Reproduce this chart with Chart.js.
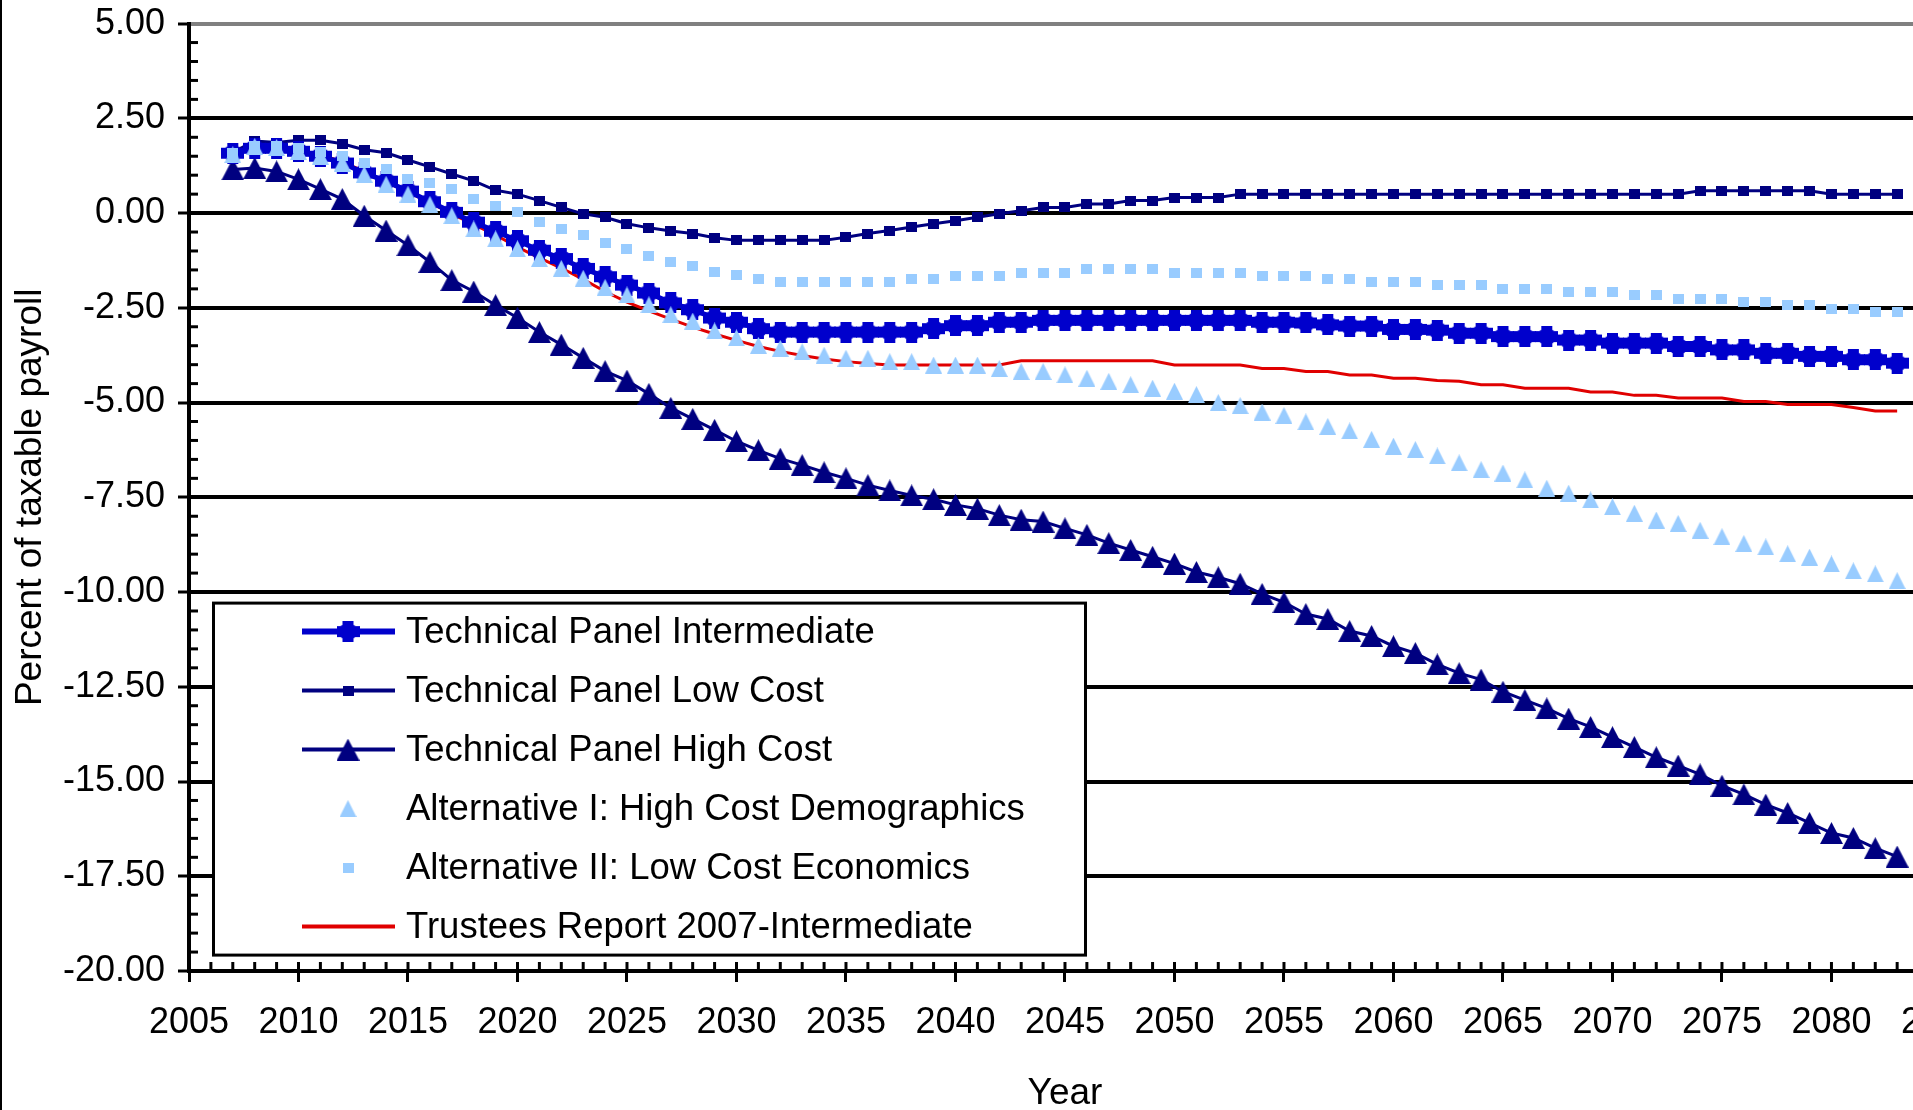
<!DOCTYPE html>
<html>
<head>
<meta charset="utf-8">
<script src="https://cdn.jsdelivr.net/npm/chart.js@4.4.1/dist/chart.umd.min.js"></script>
<style>
  html, body { margin: 0; padding: 0; background: #fff; overflow: hidden; width: 1913px; height: 1110px; }
  #wrap { position: relative; width: 1913px; height: 1110px; overflow: hidden; }
  #edge { position: absolute; left: 0; top: 0; width: 2px; height: 1110px; background: #000; z-index: 2; }
  canvas { position: absolute; left: 0; top: -11px; }
</style>
</head>
<body>
<div id="wrap">
  <canvas id="c" width="2000" height="1121"></canvas>
  <div id="edge"></div>
</div>
<script>
// ---------------- DATA ----------------
const years = [2007,2008,2009,2010,2011,2012,2013,2014,2015,2016,2017,2018,2019,2020,2021,2022,2023,2024,2025,2026,
  2027,2028,2029,2030,2031,2032,2033,2034,2035,2036,2037,2038,2039,2040,2041,2042,2043,2044,2045,2046,
  2047,2048,2049,2050,2051,2052,2053,2054,2055,2056,2057,2058,2059,2060,2061,2062,2063,2064,2065,2066,
  2067,2068,2069,2070,2071,2072,2073,2074,2075,2076,2077,2078,2079,2080,2081,2082,2083];

const techIntermediate = [1.58,1.71,1.71,1.63,1.50,1.32,1.06,0.84,0.58,0.30,0.02,-0.24,-0.48,-0.73,-0.98,-1.20,-1.46,-1.68,-1.90,-2.11,
  -2.37,-2.55,-2.77,-2.88,-3.05,-3.14,-3.14,-3.14,-3.14,-3.14,-3.14,-3.14,-3.05,-2.97,-2.97,-2.88,-2.88,-2.83,-2.83,-2.83,
  -2.83,-2.83,-2.83,-2.83,-2.83,-2.83,-2.83,-2.88,-2.88,-2.90,-2.95,-2.98,-2.98,-3.07,-3.07,-3.09,-3.17,-3.17,-3.26,-3.26,
  -3.26,-3.35,-3.35,-3.43,-3.43,-3.43,-3.52,-3.52,-3.61,-3.61,-3.70,-3.70,-3.78,-3.78,-3.87,-3.87,-3.96];

const techLowCost = [1.60,1.90,1.86,1.92,1.92,1.83,1.67,1.59,1.40,1.22,1.03,0.85,0.60,0.50,0.33,0.15,-0.02,-0.11,-0.28,-0.39,
  -0.47,-0.54,-0.65,-0.72,-0.72,-0.72,-0.72,-0.72,-0.64,-0.54,-0.46,-0.37,-0.28,-0.20,-0.11,-0.02,0.06,0.15,0.15,0.24,
  0.24,0.33,0.33,0.41,0.41,0.41,0.50,0.50,0.50,0.50,0.50,0.50,0.50,0.50,0.50,0.50,0.50,0.50,0.50,0.50,
  0.50,0.50,0.50,0.50,0.50,0.50,0.50,0.59,0.59,0.59,0.59,0.59,0.59,0.50,0.50,0.50,0.50];

const techHighCost = [1.15,1.19,1.10,0.89,0.63,0.37,-0.07,-0.46,-0.85,-1.29,-1.77,-2.07,-2.43,-2.76,-3.14,-3.47,-3.82,-4.17,-4.42,-4.77,
  -5.14,-5.43,-5.72,-6.02,-6.26,-6.48,-6.65,-6.84,-7.00,-7.18,-7.32,-7.45,-7.55,-7.70,-7.80,-7.97,-8.09,-8.14,-8.32,-8.49,
  -8.71,-8.89,-9.07,-9.25,-9.47,-9.61,-9.78,-10.05,-10.27,-10.58,-10.71,-11.03,-11.16,-11.43,-11.61,-11.91,-12.14,-12.31,-12.63,-12.85,
  -13.07,-13.34,-13.56,-13.83,-14.09,-14.36,-14.58,-14.81,-15.11,-15.34,-15.61,-15.83,-16.09,-16.36,-16.49,-16.76,-16.98];

const altIHighCostDemo = [1.54,1.76,1.73,1.63,1.50,1.32,1.02,0.76,0.50,0.23,-0.07,-0.42,-0.68,-0.94,-1.20,-1.46,-1.72,-1.96,-2.16,-2.42,
  -2.68,-2.85,-3.11,-3.29,-3.49,-3.57,-3.66,-3.75,-3.83,-3.83,-3.92,-3.92,-4.01,-4.01,-4.01,-4.10,-4.18,-4.18,-4.27,-4.36,
  -4.44,-4.53,-4.62,-4.70,-4.79,-5.00,-5.08,-5.25,-5.34,-5.51,-5.63,-5.75,-5.97,-6.15,-6.24,-6.41,-6.59,-6.77,-6.86,-7.04,
  -7.26,-7.39,-7.57,-7.75,-7.92,-8.10,-8.19,-8.37,-8.54,-8.72,-8.81,-8.99,-9.08,-9.26,-9.44,-9.52,-9.70];

const altIILowCostEcon = [1.58,1.78,1.78,1.72,1.62,1.50,1.32,1.15,0.89,0.80,0.63,0.37,0.19,0.02,-0.24,-0.42,-0.59,-0.78,-0.94,-1.13,
  -1.30,-1.39,-1.55,-1.63,-1.74,-1.83,-1.83,-1.83,-1.83,-1.83,-1.83,-1.74,-1.74,-1.65,-1.65,-1.65,-1.57,-1.57,-1.57,-1.48,
  -1.48,-1.48,-1.48,-1.57,-1.57,-1.57,-1.57,-1.65,-1.65,-1.65,-1.74,-1.74,-1.83,-1.83,-1.83,-1.91,-1.91,-1.91,-2.00,-2.00,
  -2.00,-2.09,-2.09,-2.09,-2.17,-2.17,-2.26,-2.26,-2.26,-2.35,-2.35,-2.43,-2.43,-2.52,-2.52,-2.61,-2.61];

const trustees2007 = [1.60,1.72,1.72,1.66,1.55,1.35,1.10,0.82,0.55,0.28,-0.02,-0.30,-0.58,-0.90,-1.18,-1.45,-1.75,-2.07,-2.35,-2.58,
  -2.80,-3.01,-3.19,-3.36,-3.52,-3.65,-3.76,-3.85,-3.92,-3.97,-4.01,-4.01,-4.01,-4.01,-4.01,-4.01,-3.90,-3.90,-3.90,-3.90,
  -3.90,-3.90,-3.90,-4.01,-4.01,-4.01,-4.01,-4.10,-4.10,-4.18,-4.18,-4.27,-4.27,-4.36,-4.36,-4.42,-4.44,-4.53,-4.53,-4.62,
  -4.62,-4.62,-4.72,-4.72,-4.81,-4.81,-4.88,-4.88,-4.88,-4.97,-4.97,-5.05,-5.05,-5.05,-5.13,-5.22,-5.22];

const seriesNames = [
  'Technical Panel Intermediate',
  'Technical Panel Low Cost',
  'Technical Panel High Cost',
  'Alternative I: High Cost Demographics',
  'Alternative II: Low Cost Economics',
  'Trustees Report 2007-Intermediate'
];

const yMin = -20, yMax = 5, yStep = 2.5, yMinorStep = 0.5;
const xMin = 2005, xMax = 2085, xStep = 5;

// ---------------- STYLES ----------------
const C_INT = '#0000CC', C_NAVY = '#000080', C_LIGHT = '#99CCFF', C_RED = '#E00000';
const FONT = '"Liberation Sans", Arial, Helvetica, sans-serif';
Chart.defaults.font.family = FONT;
Chart.defaults.color = '#000';

function mk(w, h, draw) {
  const c = document.createElement('canvas');
  c.width = w; c.height = h;
  draw(c.getContext('2d'), w, h);
  return c;
}
const imgInt = mk(23, 21, (g, w, h) => {
  g.fillStyle = C_INT;
  g.beginPath(); g.arc(w/2, h/2, 9, 0, Math.PI*2); g.fill();
  g.fillRect(0, 5, w, 11); g.fillRect(6, 0, 11, h);
});
const imgHigh = mk(23, 22, (g, w, h) => {
  g.fillStyle = C_NAVY;
  g.beginPath(); g.moveTo(w/2, 0); g.lineTo(w, h); g.lineTo(0, h); g.closePath(); g.fill();
});
const imgAltI = mk(17, 17, (g, w, h) => {
  g.fillStyle = C_LIGHT;
  g.beginPath(); g.moveTo(w/2, 0); g.lineTo(w, h); g.lineTo(0, h); g.closePath(); g.fill();
});
const imgLow = mk(11, 10, (g, w, h) => { g.fillStyle = C_NAVY; g.fillRect(0, 0, w, h); });
const imgAltII = mk(11, 10, (g, w, h) => { g.fillStyle = C_LIGHT; g.fillRect(0, 0, w, h); });

function pts(arr) { return years.map((yr, i) => ({ x: yr, y: arr[i] })); }

const datasets = [
  { label: seriesNames[0], data: pts(techIntermediate), borderColor: C_INT, borderWidth: 5, pointStyle: imgInt, order: 2, legendLine: true },
  { label: seriesNames[1], data: pts(techLowCost), borderColor: C_NAVY, borderWidth: 3, pointStyle: imgLow, order: 3, legendLine: true },
  { label: seriesNames[2], data: pts(techHighCost), borderColor: C_NAVY, borderWidth: 3, pointStyle: imgHigh, order: 4, legendLine: true },
  { label: seriesNames[3], data: pts(altIHighCostDemo), borderColor: C_LIGHT, showLine: false, pointStyle: imgAltI, order: 0, legendLine: false },
  { label: seriesNames[4], data: pts(altIILowCostEcon), borderColor: C_LIGHT, showLine: false, pointStyle: imgAltII, order: 1, legendLine: false },
  { label: seriesNames[5], data: pts(trustees2007), borderColor: C_RED, borderWidth: 3, pointRadius: 0, order: 5, legendLine: true }
].map(d => Object.assign({ tension: 0, fill: false, pointRadius: d.pointRadius === 0 ? 0 : 6, pointHoverRadius: 6, backgroundColor: d.borderColor }, d));

// ---------------- PLUGINS ----------------
const decor = {
  id: 'decor',
  beforeDatasetsDraw(chart) {
    const { ctx, scales: { x, y }, chartArea } = chart;
    ctx.save();
    ctx.strokeStyle = '#000';
    ctx.lineWidth = 3;
    for (let v = yMin; v <= yMax + 1e-9; v += yMinorStep) {
      const r = Math.round(v * 100) / 100;
      if (Math.abs(r / yStep - Math.round(r / yStep)) < 1e-6) continue;
      const py = y.getPixelForValue(r);
      ctx.beginPath(); ctx.moveTo(chartArea.left, py); ctx.lineTo(chartArea.left + 9, py); ctx.stroke();
    }
    for (let yr = xMin + 1; yr <= xMax; yr++) {
      const px = x.getPixelForValue(yr);
      ctx.beginPath(); ctx.moveTo(px, chartArea.bottom); ctx.lineTo(px, chartArea.bottom - 9); ctx.stroke();
    }
    ctx.restore();
  },
  afterDraw(chart) {
    const { ctx, chartArea } = chart;
    const off = chartArea.top - 24; // canvas-to-screen offset
    const L = 212, T = 602 + off, R = 1087, B = 957 + off;
    ctx.save();
    ctx.fillStyle = '#fff';
    ctx.fillRect(L, T, R - L, B - T);
    ctx.strokeStyle = '#000';
    ctx.lineWidth = 3;
    ctx.strokeRect(L + 1.5, T + 1.5, R - L - 3, B - T - 3);
    const rowY = [632, 691, 750, 809, 868, 927];
    ctx.font = '36.5px ' + FONT;
    ctx.textBaseline = 'middle';
    ctx.textAlign = 'left';
    chart.data.datasets.forEach((ds, i) => {
      const cy = rowY[i] + off;
      if (ds.legendLine) {
        ctx.strokeStyle = ds.borderColor;
        ctx.lineWidth = ds.borderWidth + 1;
        ctx.beginPath(); ctx.moveTo(302, cy); ctx.lineTo(395, cy); ctx.stroke();
      }
      if (ds.pointStyle && ds.pointRadius !== 0) {
        const im = ds.pointStyle;
        ctx.drawImage(im, 348 - im.width / 2, cy - im.height / 2);
      }
      ctx.fillStyle = '#000';
      ctx.fillText(seriesNames[i], 406, cy + 1);
    });
    ctx.restore();
  }
};

new Chart(document.getElementById('c'), {
  type: 'line',
  data: { datasets },
  options: {
    responsive: false,
    devicePixelRatio: 1,
    animation: false,
    layout: { padding: { top: 0, right: 57, left: 0, bottom: 0 } },
    plugins: { legend: { display: false }, tooltip: { enabled: false } },
    scales: {
      x: {
        type: 'linear', min: xMin, max: xMax,
        ticks: { stepSize: xStep, callback: v => String(v), font: { size: 36 }, color: '#000', padding: 19, maxRotation: 0, autoSkip: false },
        grid: { drawOnChartArea: false, drawTicks: true, tickLength: 11, tickWidth: 3, tickColor: '#000' },
        border: { display: true, color: '#000', width: 4 },
        title: { display: true, text: 'Year', font: { size: 37 }, color: '#000', padding: { top: 0, bottom: -6 } },
        afterFit: s => { s.height = 139; }
      },
      y: {
        type: 'linear', min: yMin, max: yMax,
        ticks: { stepSize: yStep, callback: v => Number(v).toFixed(2), font: { size: 36 }, color: '#000', padding: 13 },
        grid: { color: c => (c.tick && c.tick.value === yMax) ? '#808080' : '#000', lineWidth: 4, drawTicks: true, tickLength: 11, tickWidth: 3, tickColor: '#000' },
        border: { display: true, color: '#000', width: 4 },
        title: { display: true, text: 'Percent of taxable payroll', font: { size: 37 }, color: '#000', padding: { top: 9, bottom: 0 } },
        afterFit: s => { s.width = 189; }
      }
    }
  },
  plugins: [decor]
});
</script>
</body>
</html>
